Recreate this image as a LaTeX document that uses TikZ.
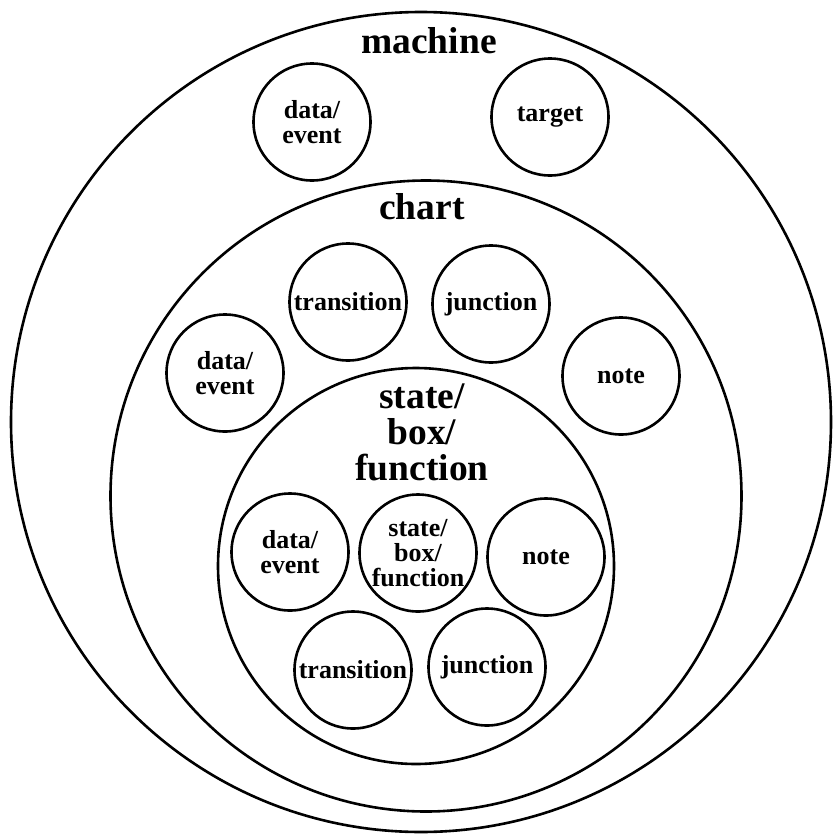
\documentclass[tikz,border=0pt]{standalone}
\usepackage{fontspec}
\setmainfont{Liberation Serif}
\usetikzlibrary{positioning}
\tikzset{
  ring/.style={shape=circle,draw=black,line width=2.6pt,inner sep=0pt},
  bubble/.style={ring,minimum size=117pt,align=center,font=\bfseries\fontsize{26}{25}\selectfont},
  title/.style={align=center,font=\bfseries\fontsize{37.5}{36}\selectfont}
}
\begin{document}
\begin{tikzpicture}[x=1pt,y=-1pt]
    \useasboundingbox (0,0) rectangle (833,836);
    \node[ring,minimum size=820pt] (mach) at (421,422) {};
    \node[ring,minimum size=631pt] (chrt) at (426,496) {};
    \node[ring,minimum size=396pt] (sbf) at (416,566) {};
    \node[title,anchor=base] (machL) at (429,53) {machine};
    \node[title,anchor=base] (chrtL) at (422,219) {chart};
    \node[title] (sbfL) at (422,432) {state/\\box/\\function};
    \node[bubble] (md) at (312,122) {data/\\event};
    \node[bubble] (mt) at (550,117) {target};
    \node[bubble] (ct) at (348,302) {transition};
    \node[bubble] (cj) at (491,304) {junction};
    \node[bubble] (cd) at (225,373) {data/\\event};
    \node[bubble] (cn) at (621,376) {note};
    \node[bubble] (sd) at (290,552) {data/\\event};
    \node[bubble] (ss) at (418,553) {state/\\box/\\function};
    \node[bubble] (sn) at (546,557) {note};
    \node[bubble] (st) at (353,670) {transition};
    \node[bubble] (sj) at (487,667) {junction};
\end{tikzpicture}
\end{document}
